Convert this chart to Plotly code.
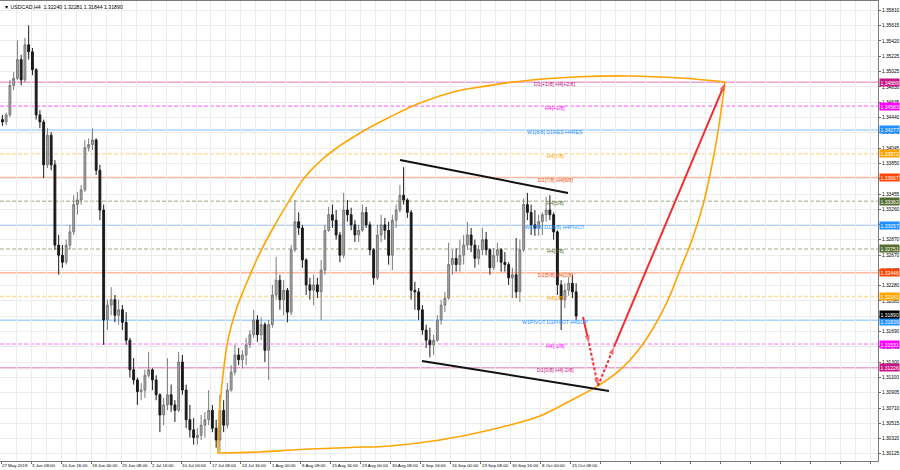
import plotly.graph_objects as go

# ---------------- data ----------------
# aggregated candles, each spanning 4 H4 bars (USDCAD, 27 May 2019 .. 16 Oct 2019)
opens = [1.3441,1.3438,1.3447,1.3485,1.3494,1.3518,1.3492,1.3537,1.3528,1.3505,
         1.3447,1.3438,1.3383,1.3421,1.3383,1.3280,1.3267,1.3258,1.3280,1.3297,
         1.3332,1.3338,1.3351,1.3405,1.3409,1.3415,1.3376,1.3325,1.3184,1.3203,
         1.3210,1.3190,1.3197,1.3181,1.3158,1.3120,1.3107,1.3092,1.3094,1.3113,
         1.3120,1.3107,1.3088,1.3062,1.3075,1.3088,1.3075,1.3068,1.3130,1.3094,
         1.3056,1.3043,1.3033,1.3036,1.3049,1.3056,1.3068,1.3045,1.3030,1.3068,
         1.3049,1.3094,1.3117,1.3139,1.3133,1.3139,1.3152,1.3165,1.3184,1.3165,
         1.3178,1.3145,1.3178,1.3216,1.3235,1.3210,1.3222,1.3194,1.3274,1.3310,
         1.3302,1.3261,1.3229,1.3222,1.3229,1.3220,1.3248,1.3299,1.3319,1.3312,
         1.3293,1.3267,1.3325,1.3319,1.3306,1.3293,1.3299,1.3322,1.3306,1.3274,
         1.3238,1.3293,1.3306,1.3299,1.3267,1.3312,1.3325,1.3344,1.3338,1.3322,
         1.3222,1.3220,1.3197,1.3171,1.3158,1.3152,1.3158,1.3184,1.3203,1.3212,
         1.3255,1.3263,1.3255,1.3267,1.3280,1.3293,1.3280,1.3263,1.3274,1.3287,
         1.3274,1.3251,1.3267,1.3274,1.3258,1.3255,1.3238,1.3242,1.3220,1.3274,
         1.3332,1.3322,1.3306,1.3302,1.3310,1.3319,1.3325,1.3319,1.3297,1.3229,
         1.3210,1.3222,1.3231,1.3220]
highs = [1.3447,1.3450,1.3492,1.3502,1.3543,1.3524,1.3546,1.3562,1.3533,1.3507,
         1.3453,1.3441,1.3430,1.3425,1.3389,1.3293,1.3280,1.3287,1.3306,1.3344,
         1.3348,1.3357,1.3415,1.3417,1.3430,1.3417,1.3383,1.3332,1.3210,1.3226,
         1.3216,1.3210,1.3203,1.3194,1.3161,1.3135,1.3110,1.3103,1.3120,1.3143,
         1.3122,1.3113,1.3090,1.3084,1.3135,1.3101,1.3081,1.3143,1.3139,1.3101,
         1.3075,1.3058,1.3045,1.3062,1.3066,1.3094,1.3075,1.3056,1.3088,1.3081,
         1.3103,1.3126,1.3152,1.3148,1.3145,1.3161,1.3171,1.3197,1.3190,1.3187,
         1.3181,1.3184,1.3229,1.3265,1.3242,1.3235,1.3225,1.3280,1.3338,1.3322,
         1.3306,1.3263,1.3238,1.3242,1.3238,1.3261,1.3306,1.3329,1.3332,1.3325,
         1.3297,1.3347,1.3338,1.3328,1.3312,1.3306,1.3332,1.3329,1.3310,1.3276,
         1.3306,1.3319,1.3315,1.3310,1.3319,1.3332,1.3357,1.3380,1.3340,1.3325,
         1.3233,1.3225,1.3203,1.3178,1.3174,1.3165,1.3190,1.3210,1.3220,1.3283,
         1.3274,1.3276,1.3287,1.3293,1.3310,1.3302,1.3287,1.3280,1.3302,1.3297,
         1.3276,1.3276,1.3283,1.3276,1.3271,1.3258,1.3251,1.3289,1.3287,1.3340,
         1.3347,1.3332,1.3325,1.3319,1.3322,1.3342,1.3344,1.3322,1.3299,1.3235,
         1.3231,1.3239,1.3242,1.3231]
lows = [1.3433,1.3434,1.3444,1.3479,1.3492,1.3485,1.3489,1.3518,1.3498,1.3441,
        1.3430,1.3366,1.3379,1.3376,1.3274,1.3242,1.3251,1.3255,1.3274,1.3293,
        1.3319,1.3332,1.3348,1.3400,1.3402,1.3370,1.3312,1.3152,1.3171,1.3190,
        1.3181,1.3178,1.3171,1.3152,1.3110,1.3101,1.3075,1.3081,1.3084,1.3110,
        1.3094,1.3081,1.3040,1.3049,1.3068,1.3066,1.3053,1.3066,1.3088,1.3045,
        1.3033,1.3024,1.3024,1.3030,1.3033,1.3049,1.3040,1.3020,1.3015,1.3040,
        1.3045,1.3092,1.3113,1.3126,1.3122,1.3126,1.3148,1.3161,1.3156,1.3158,
        1.3130,1.3107,1.3174,1.3210,1.3197,1.3190,1.3181,1.3190,1.3271,1.3293,
        1.3251,1.3216,1.3210,1.3203,1.3212,1.3184,1.3242,1.3297,1.3302,1.3287,
        1.3258,1.3263,1.3310,1.3299,1.3284,1.3284,1.3297,1.3302,1.3267,1.3229,
        1.3235,1.3284,1.3287,1.3255,1.3248,1.3302,1.3322,1.3332,1.3315,1.3210,
        1.3197,1.3184,1.3165,1.3148,1.3136,1.3139,1.3156,1.3178,1.3194,1.3210,
        1.3242,1.3246,1.3246,1.3255,1.3274,1.3271,1.3251,1.3255,1.3267,1.3267,
        1.3242,1.3248,1.3258,1.3246,1.3246,1.3229,1.3212,1.3212,1.3207,1.3271,
        1.3312,1.3293,1.3292,1.3292,1.3293,1.3310,1.3312,1.3287,1.3216,1.3171,
        1.3199,1.3215,1.3212,1.3184]
closes = [1.3438,1.3447,1.3485,1.3494,1.3518,1.3492,1.3537,1.3528,1.3505,1.3447,
          1.3438,1.3383,1.3421,1.3383,1.3280,1.3267,1.3258,1.3280,1.3297,1.3332,
          1.3338,1.3351,1.3405,1.3409,1.3415,1.3376,1.3325,1.3184,1.3203,1.3210,
          1.3190,1.3197,1.3181,1.3158,1.3120,1.3107,1.3092,1.3094,1.3113,1.3120,
          1.3107,1.3088,1.3062,1.3075,1.3088,1.3075,1.3068,1.3130,1.3094,1.3056,
          1.3043,1.3033,1.3036,1.3049,1.3056,1.3068,1.3045,1.3030,1.3068,1.3049,
          1.3094,1.3117,1.3139,1.3133,1.3139,1.3152,1.3165,1.3184,1.3165,1.3178,
          1.3145,1.3178,1.3216,1.3235,1.3210,1.3222,1.3194,1.3274,1.3310,1.3302,
          1.3261,1.3229,1.3222,1.3229,1.3220,1.3248,1.3299,1.3319,1.3312,1.3293,
          1.3267,1.3325,1.3319,1.3306,1.3293,1.3299,1.3322,1.3306,1.3274,1.3238,
          1.3293,1.3306,1.3299,1.3267,1.3312,1.3325,1.3344,1.3338,1.3322,1.3222,
          1.3220,1.3197,1.3171,1.3158,1.3152,1.3158,1.3184,1.3203,1.3212,1.3255,
          1.3263,1.3255,1.3267,1.3280,1.3293,1.3280,1.3263,1.3274,1.3287,1.3274,
          1.3251,1.3267,1.3274,1.3258,1.3255,1.3238,1.3242,1.3220,1.3274,1.3332,
          1.3322,1.3306,1.3302,1.3310,1.3319,1.3325,1.3319,1.3297,1.3229,1.3210,
          1.3222,1.3231,1.3220,1.3189]
BARS_PER_CANDLE = 4

# x axis labels (bar index -> label), one every 32 H4 bars
date_ticks = [0, 32, 64, 96, 128, 160, 192, 224, 256, 288, 320, 352, 384, 416,
              448, 480, 512, 544, 576, 608]
date_labels = ["27 May 2019", "3 Jun 08:00", "10 Jun 16:00", "18 Jun 00:00",
               "25 Jun 08:00", "2 Jul 16:00", "10 Jul 00:00", "17 Jul 08:00",
               "24 Jul 16:00", "1 Aug 00:00", "8 Aug 08:00", "15 Aug 16:00",
               "23 Aug 00:00", "30 Aug 08:00", "6 Sep 16:00", "16 Sep 00:00",
               "23 Sep 08:00", "30 Sep 16:00", "8 Oct 00:00", "15 Oct 08:00"]

# price axis labels
price_ticks = [1.35810, 1.35615, 1.35420, 1.35225, 1.35025, 1.34830, 1.34635,
               1.34440, 1.34245, 1.34045, 1.33850, 1.33655, 1.33455, 1.33260,
               1.33065, 1.32870, 1.32670, 1.32475, 1.32280, 1.32085, 1.31890,
               1.31690, 1.31495, 1.31300, 1.31100, 1.30905, 1.30710, 1.30515,
               1.30320, 1.30125]

# Murrey-math style levels
levels = [1.34889, 1.34583, 1.34277, 1.33972, 1.33667, 1.33362, 1.33057,
          1.32751, 1.32446, 1.32141, 1.31836, 1.31531, 1.31226]
level_names = ["D1[+1/8] H4[+2/8]", "H4[+1/8]", "W1[6/8] D1RES H4RES", "H4[7/8]",
               "D1[7/8] H4[6/8]", "H4[5/8]", "W1[5/8] D1[6/8] H4PIVOT", "H4[3/8]",
               "D1[5/8] H4[2/8]", "H4[1/8]", "W1PIVOT D1PIVOT H4SUP", "H4[-1/8]",
               "D1[3/8] H4[-2/8]"]
level_colors = ["#C71585", "#FF00FF", "#1E90FF", "#FFA500", "#FF4500", "#556B2F",
                "#1E90FF", "#556B2F", "#FF4500", "#FFA500", "#1E90FF", "#FF00FF",
                "#C71585"]
level_dash = ["solid", "dash", "solid", "dash", "solid", "dash", "solid", "dash",
              "solid", "dash", "solid", "dash", "solid"]
label_bar = 591
current_price = 1.31890
header = "\u25BC USDCAD,H4  1.32240 1.32281 1.31844 1.31890"

# channel lines (bar index, price)
upper_bars = [425.6, 604.8]
upper_prices = [1.33892, 1.33469]
lower_bars = [449.1, 648.5]
lower_prices = [1.31313, 1.30929]

# orange arcs (bar index, price)
arc_up_bars = [231.3, 232.5, 235.4, 242.1, 250.7, 260.3, 274.1, 289.1, 306.1,
               324.3, 350.9, 382.9, 414.9, 446.9, 486.4, 511.0, 546.1, 585.6,
               617.6, 670.9, 724.3, 772.3]
arc_up_prices = [1.30133, 1.30556, 1.30980, 1.31583, 1.31968, 1.32263, 1.32648,
                 1.32994, 1.33341, 1.33674, 1.33982, 1.34239, 1.34444, 1.34624,
                 1.34777, 1.34829, 1.34893, 1.34938, 1.34961, 1.34970, 1.34944,
                 1.34893]
arc_lo_bars = [231.3, 276.3, 318.9, 372.3, 414.9, 468.3, 521.6, 574.9, 606.9,
               636.8, 660.3, 681.6, 697.6, 711.5, 724.3, 737.1, 748.8, 758.4,
               765.9, 772.3]
arc_lo_prices = [1.30133, 1.30146, 1.30178, 1.30204, 1.30223, 1.30300, 1.30428,
                 1.30608, 1.30800, 1.30993, 1.31198, 1.31480, 1.31775, 1.32096,
                 1.32481, 1.32866, 1.33315, 1.33828, 1.34341, 1.34893]

# red projection arrows (bar index, price)
arrow_bars = [620.8, 627.2, 636.8, 653.9, 772.3]
arrow_prices = [1.31878, 1.31544, 1.30993, 1.31493, 1.34880]
arrow_dashed = [False, True, True, False]

# ---------------- figure ----------------
candle_x = [BARS_PER_CANDLE * i + 1.5 for i in range(len(closes))]

fig = go.Figure()
fig.add_trace(go.Candlestick(
    x=candle_x, open=opens, high=highs, low=lows, close=closes,
    increasing=dict(line=dict(color="#7a7a7a", width=1), fillcolor="#a8a8a8"),
    decreasing=dict(line=dict(color="#1a1a1a", width=1), fillcolor="#1a1a1a"),
    whiskerwidth=0, showlegend=False, hoverinfo="skip"))

# level lines
shapes = []
for v, c, d in zip(levels, level_colors, level_dash):
    shapes.append(dict(type="line", xref="paper", x0=0, x1=1, yref="y", y0=v, y1=v,
                       line=dict(color=c, width=1.6, dash="4px,2px" if d == "dash" else "solid"),
                       opacity=0.38, layer="below"))
fig.update_layout(shapes=shapes)

# orange arcs
for bx, py in ((arc_up_bars, arc_up_prices), (arc_lo_bars, arc_lo_prices)):
    fig.add_trace(go.Scatter(x=bx, y=py, mode="lines", line=dict(color="#FFA500", width=1.6, shape="spline"),
                             showlegend=False, hoverinfo="skip"))

# channel lines
for bx, py in ((upper_bars, upper_prices), (lower_bars, lower_prices)):
    fig.add_trace(go.Scatter(x=bx, y=py, mode="lines", line=dict(color="#111111", width=2),
                             showlegend=False, hoverinfo="skip"))

# red arrows
for k, dashed in enumerate(arrow_dashed):
    fig.add_trace(go.Scatter(
        x=arrow_bars[k:k + 2], y=arrow_prices[k:k + 2], mode="lines+markers",
        line=dict(color="#F03030", width=2, dash="3px,2px" if dashed else "solid"),
        marker=dict(symbol="arrow", size=[0, 8], color="#F03030", angleref="previous",
                    line=dict(width=0)),
        showlegend=False, hoverinfo="skip"))

ann = []
font_family = "Liberation Sans"
for v, name, c in zip(levels, level_names, level_colors):
    ann.append(dict(x=label_bar, y=v, xref="x", yref="y", text=name, showarrow=False,
                    yshift=-2, font=dict(size=5.2, color=c, family=font_family)))
    ann.append(dict(x=1, y=v, xref="paper", yref="y", xanchor="left", xshift=1,
                    yshift=-1 if v == 1.31836 else 0,
                    text=f"{v:.5f}", showarrow=False, bgcolor=c, borderpad=0.6,
                    font=dict(size=5, color="white", family=font_family)))
ann.append(dict(x=1, y=current_price, xref="paper", yref="y", xanchor="left", xshift=1,
                yshift=1.5, text=f"{current_price:.5f}", showarrow=False, bgcolor="#000000",
                borderpad=0.6, font=dict(size=5, color="white", family=font_family)))
ann.append(dict(x=0.002, y=0.997, xref="paper", yref="paper", xanchor="left", yanchor="top",
                text=header, showarrow=False, font=dict(size=5.2, color="#000000", family=font_family)))
fig.update_layout(annotations=ann)

grid_minor = [t + 16 for t in date_ticks] + [date_ticks[-1] + 48 + 32 * j for j in range(10)]
major_extra = [date_ticks[-1] + 32 * j for j in range(1, 11)]

fig.update_layout(
    width=900, height=470,
    margin=dict(l=0, r=22, t=1, b=9),
    paper_bgcolor="white", plot_bgcolor="white",
    font=dict(family=font_family, size=5, color="#000000"),
    xaxis=dict(range=[-1.07, 935.5], rangeslider=dict(visible=False),
               tickmode="array", tickvals=date_ticks + major_extra,
               ticktext=date_labels + [""] * len(major_extra), tickangle=0,
               ticklabelposition="outside right", ticks="outside", ticklen=2,
               tickcolor="#666666", tickfont=dict(size=4.4),
               showgrid=True, gridcolor="#ececec", gridwidth=1,
               minor=dict(tickvals=grid_minor, showgrid=True, gridcolor="#ececec", ticks=""),
               showline=True, linecolor="#7a7a7a", linewidth=1, mirror=True, zeroline=False),
    yaxis=dict(range=[1.30030, 1.35932], side="right", tickmode="array",
               tickvals=price_ticks, ticktext=[f"{t:.5f}" for t in price_ticks],
               ticks="outside", ticklen=2, tickcolor="#666666", tickfont=dict(size=4.8),
               showgrid=True, gridcolor="#ececec", gridwidth=1,
               showline=True, linecolor="#7a7a7a", linewidth=1, mirror=True, zeroline=False),
)

fig.write_html("out.html", config={"displayModeBar": False},
               post_script="document.body.style.margin='0px';document.body.style.overflow='hidden';")
